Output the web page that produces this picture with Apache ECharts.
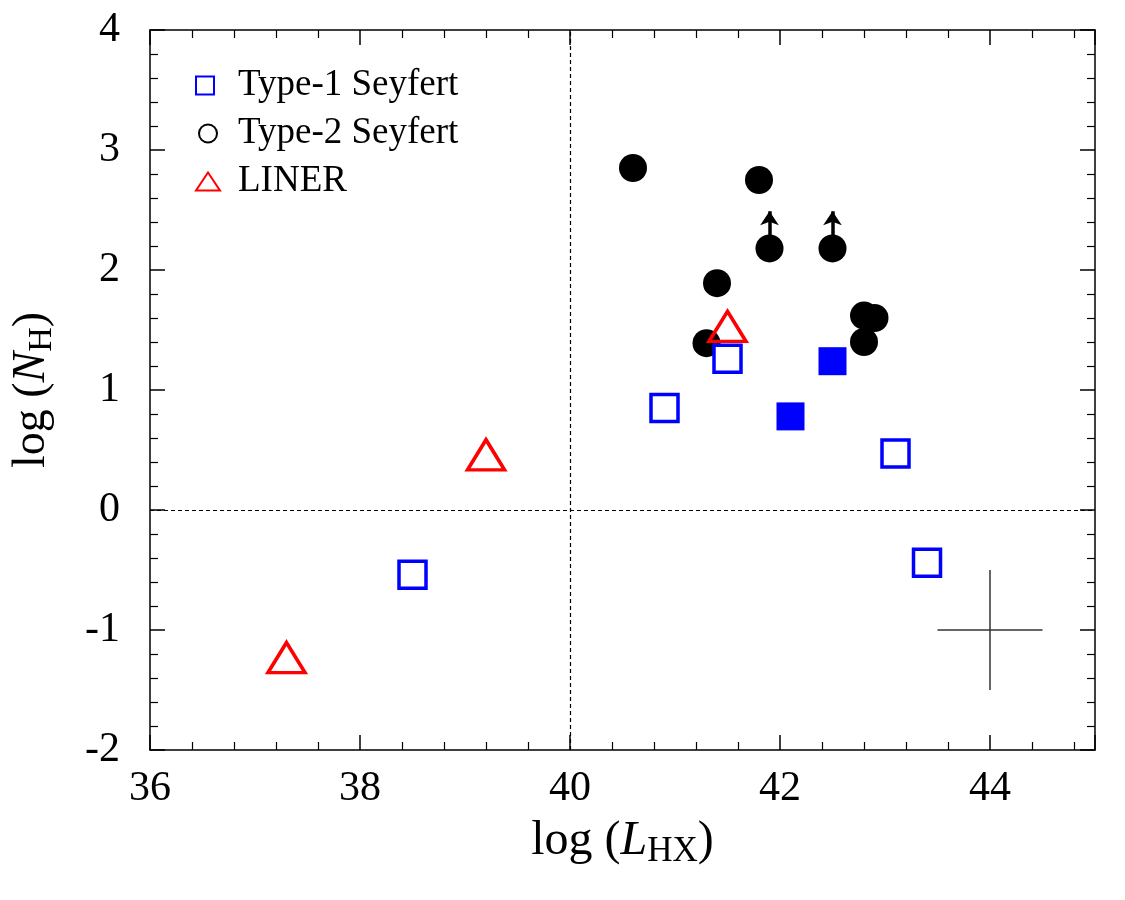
<!DOCTYPE html>
<html><head><meta charset="utf-8">
<script src="https://cdn.jsdelivr.net/npm/echarts@6/dist/echarts.min.js"></script>
<style>html,body{margin:0;padding:0;background:#fff}#c{width:1125px;height:900px}</style>
</head><body><div id="c"></div>
<script>
// ---- data ----
const type1Open = [[41.5,1.26],[40.9,0.85],[43.1,0.47],[38.5,-0.54],[43.4,-0.44]];
const type1Filled = [[42.5,1.24],[42.1,0.78]];
const type2 = [[40.6,2.85],[41.8,2.75],[41.9,2.18],[42.5,2.18],[41.4,1.89],[42.8,1.62],[42.9,1.60],[42.8,1.40],[41.3,1.39]];
const liner = [[41.5,1.53],[39.2,0.46],[37.3,-1.23]];
const lowerLimitPoints = [[41.9,2.18],[42.5,2.18]];
const lowerLimitTips = [2.49, 2.49];
const errorBarX = [[43.5,-1],[44.5,-1]];
const errorBarY = [[44,-1.5],[44,-0.5]];
const refLineX = 40, refLineY = 0;
const xRange = [36, 45], yRange = [-2, 4];
const legendNames = ['Type-1 Seyfert','Type-2 Seyfert','LINER'];

const serif = '"Liberation Serif","Times New Roman",serif';
const black = '#000';
function axisBase(extra){
  return Object.assign({
    type:'value',
    axisLine:{show:true,onZero:false,lineStyle:{color:black,width:1.5}},
    axisTick:{show:true,inside:true,length:15,lineStyle:{color:black,width:1.5}},
    minorTick:{show:true,splitNumber:5,length:8,lineStyle:{color:black,width:1.2}},
    splitLine:{show:false},
    axisLabel:{show:false}
  }, extra);
}
const labelStyle = {show:true,color:black,fontFamily:serif,fontSize:42};
const nameRich = {
  i:{fontFamily:serif,fontSize:48,fontStyle:'italic',color:black},
  s:{fontFamily:serif,fontSize:35,color:black,padding:[20,0,0,0]}
};

const chart = echarts.init(document.getElementById('c'));
chart.setOption({
  backgroundColor:'#fff',
  animation:false,
  grid:{left:150,top:30,width:945,height:720,containLabel:false},
  xAxis:[
    axisBase({min:xRange[0],max:xRange[1],interval:2,position:'bottom',
      axisLabel:Object.assign({margin:18,showMaxLabel:false},labelStyle),
      name:'log ({i|L}{s|HX})',nameLocation:'middle',nameGap:64,
      nameTextStyle:{fontFamily:serif,fontSize:48,color:black,rich:nameRich}}),
    axisBase({min:xRange[0],max:xRange[1],interval:2,position:'top'})
  ],
  yAxis:[
    axisBase({min:yRange[0],max:yRange[1],interval:1,position:'left',
      axisLabel:Object.assign({margin:30},labelStyle),
      name:'log ({i|N}{s|H})',nameLocation:'middle',nameGap:91,nameRotate:90,
      nameTextStyle:{fontFamily:serif,fontSize:46,color:black,rich:{
        i:{fontFamily:serif,fontSize:46,fontStyle:'italic',color:black},
        s:{fontFamily:serif,fontSize:34,color:black,padding:[20,0,0,0]}}}}),
    axisBase({min:yRange[0],max:yRange[1],interval:1,position:'right'})
  ],
  legend:{
    orient:'vertical',left:190,top:62,itemGap:11,itemWidth:24,itemHeight:18,
    textStyle:{fontFamily:serif,fontSize:37,lineHeight:36,color:black,padding:[0,0,0,13]},
    data:[
      {name:legendNames[0],icon:'square',itemStyle:{color:'#fff',borderColor:'#0000ff',borderWidth:2}},
      {name:legendNames[1],icon:'circle',itemStyle:{color:'#fff',borderColor:black,borderWidth:2}},
      {name:legendNames[2],icon:'triangle',itemStyle:{color:'#fff',borderColor:'#ff0000',borderWidth:2}}
    ]
  },
  series:[
    {type:'line',name:'errX',data:errorBarX,symbol:'none',lineStyle:{color:'#333',width:1.5},z:1},
    {type:'line',name:'errY',data:errorBarY,symbol:'none',lineStyle:{color:'#333',width:1.5},z:1},
    {type:'lines',coordinateSystem:'cartesian2d',name:'limits',
      data:lowerLimitPoints.map((p,i)=>({coords:[p,[p[0],lowerLimitTips[i]]]})),
      symbol:['none','arrow'],symbolSize:14,
      lineStyle:{color:black,width:3.5,opacity:1},z:2},
    {type:'scatter',name:legendNames[1],data:type2,symbol:'circle',symbolSize:28,
      itemStyle:{color:black,opacity:1},z:3,
      markLine:{silent:true,symbol:'none',label:{show:false},
        lineStyle:{color:black,type:[4,3],width:1.2},
        data:[{xAxis:refLineX},{yAxis:refLineY}]}},
    {type:'scatter',name:legendNames[0],data:type1Open,symbol:'rect',symbolSize:27,
      itemStyle:{color:'#fff',borderColor:'#0000ff',borderWidth:3.5,opacity:1},z:4},
    {type:'scatter',name:'Type-1 filled',data:type1Filled,symbol:'rect',symbolSize:28,
      itemStyle:{color:'#0000ff',opacity:1},z:4},
    {type:'scatter',name:legendNames[2],data:liner,symbol:'triangle',symbolSize:[37,30],
      itemStyle:{color:'rgba(255,255,255,0)',borderColor:'#ff0000',borderWidth:3.5,opacity:1},z:5}
  ]
});
</script></body></html>
